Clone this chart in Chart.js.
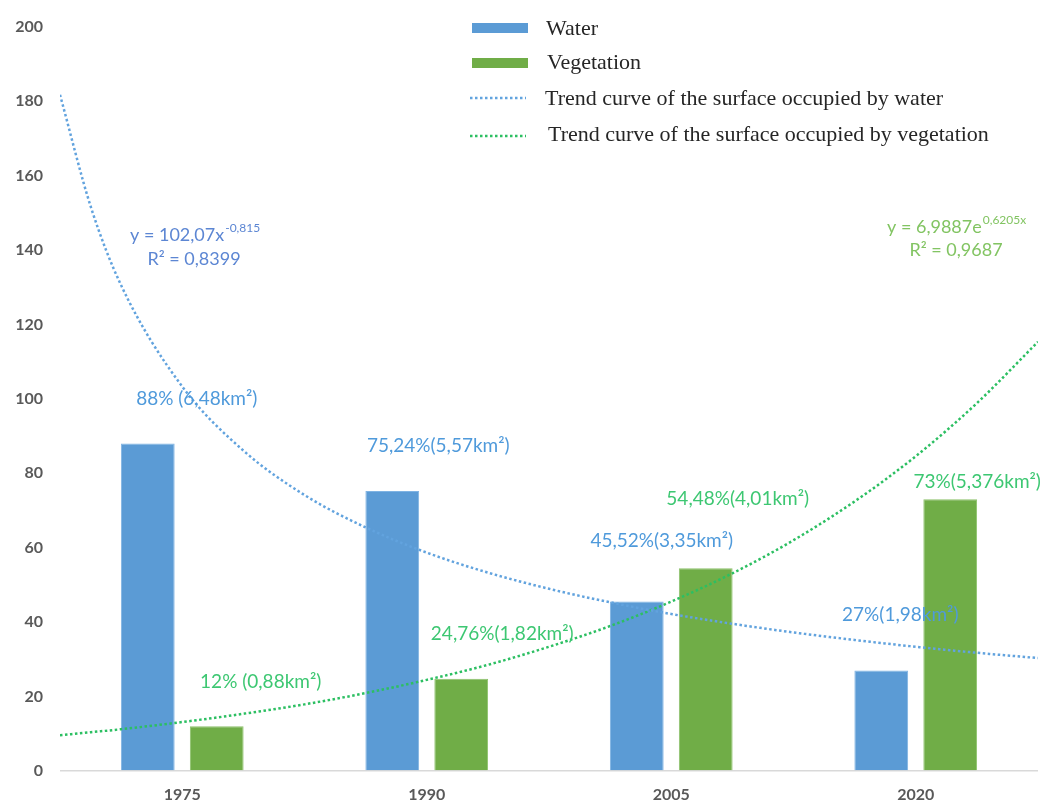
<!DOCTYPE html>
<html>
<head>
<meta charset="utf-8">
<script src="https://cdn.jsdelivr.net/npm/chart.js@4.4.0/dist/chart.umd.min.js"></script>
<style>
    html, body { margin: 0; padding: 0; background: #fff; }
    #wrap { width: 1046px; height: 800px; position: relative; }
    .camada { position: absolute; left: 0; top: 0; width: 1046px; height: 800px; }
</style>
</head>
<body>
<div id="wrap">
    <div class="camada"><canvas id="barras"></canvas></div>
    <div class="camada"><canvas id="tendencias"></canvas></div>
</div>
<script>
// dados
const anos = ['1975', '1990', '2005', '2020'];
const agua = [88, 75.24, 45.52, 27];
const vegetacao = [12, 24.76, 54.48, 73];
const rotulosAgua = ['88% (6,48km²)', '75,24%(5,57km²)', '45,52%(3,35km²)', '27%(1,98km²)'];
const rotulosVegetacao = ['12% (0,88km²)', '24,76%(1,82km²)', '54,48%(4,01km²)', '73%(5,376km²)'];
const ticksY = [0, 20, 40, 60, 80, 100, 120, 140, 160, 180, 200];

// curvas de tendencia, lidas ao longo das linhas pontilhadas (x em anos)
const tendenciaAnos = [1967.5, 1969.4, 1971.25, 1975, 1978.75, 1982.5, 1986.25, 1990, 1993.75, 1997.5, 2001.25, 2005, 2008.75, 2012.5, 2016.25, 2020, 2023.75, 2027.5];
const tendenciaAgua = [179.6, 149.7, 129.0, 102.1, 85.1, 73.3, 64.7, 58.0, 52.7, 48.4, 44.8, 41.7, 39.1, 36.8, 34.8, 33.0, 31.4, 30.0];
const tendenciaVegetacao = [9.5, 10.3, 11.1, 13.0, 15.2, 17.7, 20.7, 24.2, 28.2, 33.0, 38.5, 45.0, 52.5, 61.3, 71.6, 83.6, 97.7, 114.0];

const corAgua = '#5B9BD5';
const corVegetacao = '#70AD47';
const corTendAgua = '#62A3DE';
const corTendVeg = '#2CBF62';

// deslocamento (px) de cada rotulo em relacao ao topo da barra
const posAgua = [[49, -45], [46, -45], [25, -61], [19, -56]];
const posVeg = [[44, -44], [41, -45], [32, -69], [27, -17]];

Chart.defaults.font.family = 'Lato';

function pontos(xs, ys) {
    var lista = [];
    for (var i = 0; i < xs.length; i++) {
        lista.push({ x: xs[i], y: ys[i] });
    }
    return lista;
}

// grafico de barras (eixos visiveis)
const graficoBarras = new Chart(document.getElementById('barras'), {
    type: 'bar',
    data: {
        labels: anos,
        datasets: [{
            label: 'Water',
            data: agua,
            backgroundColor: corAgua,
            borderColor: '#7FB3E3',
            borderWidth: 1,
            categoryPercentage: 0.564,
            barPercentage: 0.78
        }, {
            label: 'Vegetation',
            data: vegetacao,
            backgroundColor: corVegetacao,
            borderColor: '#8CC26A',
            borderWidth: 1,
            categoryPercentage: 0.564,
            barPercentage: 0.78
        }]
    },
    options: {
        responsive: true,
        maintainAspectRatio: false,
        animation: false,
        layout: { padding: { top: 18, right: 8, left: 0, bottom: 0 } },
        plugins: {
            legend: { display: false },
            tooltip: { enabled: false }
        },
        scales: {
            x: {
                grid: { display: false },
                border: { display: false },
                ticks: {
                    color: '#595959',
                    font: { size: 16, weight: 'bold' },
                    padding: 6
                },
                afterFit(scale) { scale.height = 29; }
            },
            y: {
                min: 0,
                max: 200,
                afterBuildTicks(scale) {
                    scale.ticks = ticksY.map(function (v) { return { value: v }; });
                },
                grid: {
                    drawTicks: false,
                    color: function (c) { return c.tick && c.tick.value === 0 ? '#D9D9D9' : 'rgba(0,0,0,0)'; },
                    lineWidth: 1.5
                },
                border: { display: false },
                ticks: {
                    color: '#595959',
                    font: { size: 16, weight: 'bold' },
                    padding: 17
                },
                afterFit(scale) { scale.width = 60; }
            }
        }
    }
});

const rotulosPlugin = {
    id: 'rotulos',
    afterDatasetsDraw(chart) {
        const ctx = chart.ctx;
        ctx.save();
        ctx.font = '19px Lato';
        ctx.textAlign = 'center';
        ctx.textBaseline = 'middle';
        const metaA = graficoBarras.getDatasetMeta(0);
        const metaV = graficoBarras.getDatasetMeta(1);
        for (var i = 0; i < anos.length; i++) {
            var b = metaA.data[i];
            ctx.fillStyle = '#4F9ADB';
            ctx.fillText(rotulosAgua[i], b.x + posAgua[i][0], b.y + posAgua[i][1]);
            b = metaV.data[i];
            ctx.fillStyle = '#3DC772';
            ctx.fillText(rotulosVegetacao[i], b.x + posVeg[i][0], b.y + posVeg[i][1]);
        }

        // equacoes das curvas
        function equacao(x, y, texto, sup, cor) {
            ctx.fillStyle = cor;
            ctx.textAlign = 'left';
            ctx.font = '18px Lato';
            ctx.fillText(texto, x, y);
            var w = ctx.measureText(texto).width;
            ctx.font = '12px Lato';
            ctx.fillText(sup, x + w + 1, y - 7);
        }
        equacao(130, 235, 'y = 102,07x', '-0,815', '#5C86D3');
        ctx.font = '18px Lato';
        ctx.textAlign = 'center';
        ctx.fillText('R² = 0,8399', 194, 259);
        equacao(887, 227, 'y = 6,9887e', '0,6205x', '#82C462');
        ctx.font = '18px Lato';
        ctx.textAlign = 'center';
        ctx.fillText('R² = 0,9687', 956, 250);
        ctx.restore();
    }
};

const legendaPlugin = {
    id: 'legenda',
    afterDraw(chart) {
        const ctx = chart.ctx;
        ctx.save();
        ctx.font = '22px "Liberation Serif"';
        ctx.textBaseline = 'middle';
        ctx.textAlign = 'left';

        ctx.fillStyle = corAgua;
        ctx.fillRect(472, 23, 56, 10);
        ctx.fillStyle = corVegetacao;
        ctx.fillRect(472, 58, 56, 10);

        ctx.lineWidth = 2.5;
        ctx.setLineDash([2.5, 2.5]);
        ctx.strokeStyle = corTendAgua;
        ctx.beginPath(); ctx.moveTo(470, 98); ctx.lineTo(526, 98); ctx.stroke();
        ctx.strokeStyle = corTendVeg;
        ctx.beginPath(); ctx.moveTo(470, 136); ctx.lineTo(526, 136); ctx.stroke();
        ctx.setLineDash([]);

        ctx.fillStyle = '#262626';
        ctx.fillText('Water', 546, 29);
        ctx.fillText('Vegetation', 547, 63);
        ctx.fillText('Trend curve of the surface occupied by water', 545, 99);
        ctx.fillText('Trend curve of the surface occupied by vegetation', 548, 135);
        ctx.restore();
    }
};

// curvas de tendencia por cima, com a mesma area do grafico
new Chart(document.getElementById('tendencias'), {
    type: 'line',
    data: {
        datasets: [{
            label: 'Trend curve of the surface occupied by water',
            data: pontos(tendenciaAnos, tendenciaAgua),
            borderColor: corTendAgua,
            borderWidth: 2.5,
            borderDash: [2.5, 2.5],
            pointRadius: 0,
            cubicInterpolationMode: 'monotone',
            fill: false
        }, {
            label: 'Trend curve of the surface occupied by vegetation',
            data: pontos(tendenciaAnos, tendenciaVegetacao),
            borderColor: corTendVeg,
            borderWidth: 2.5,
            borderDash: [2.5, 2.5],
            pointRadius: 0,
            cubicInterpolationMode: 'monotone',
            fill: false
        }]
    },
    options: {
        responsive: true,
        maintainAspectRatio: false,
        animation: false,
        layout: { padding: { top: 18, right: 8, left: 60, bottom: 29 } },
        plugins: {
            legend: { display: false },
            tooltip: { enabled: false }
        },
        scales: {
            x: { type: 'linear', display: false, offset: false, min: 1967.5, max: 2027.5 },
            y: { display: false, min: 0, max: 200 }
        }
    },
    plugins: [rotulosPlugin, legendaPlugin]
});
</script>
</body>
</html>
